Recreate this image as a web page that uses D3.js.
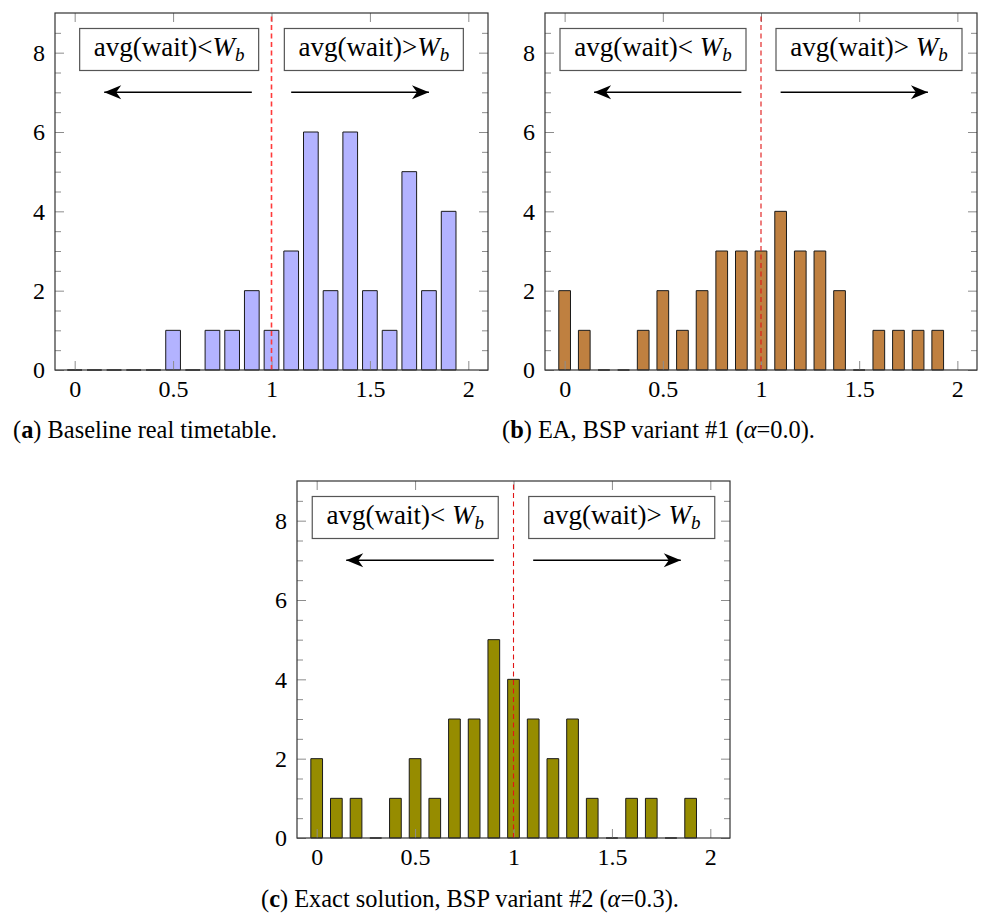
<!DOCTYPE html>
<html>
  <body>
    <style>
      body {
        margin: 0;
        background: #fff;
      }
      svg {
        display: block;
        font-family: 'Liberation Serif', 'DejaVu Serif', serif;
      }
      .tick text {
        font-size: 24px;
        fill: #000;
      }
      .tick line {
        stroke: #8c8c8c;
      }
    </style>
    <div class="chart"></div>
    <script src="https://d3js.org/d3.v7.min.js"></script>
    <script type="text/javascript">
      const width = 981;
      const height = 914;

      // histogram bins (bin centres) and the count in each bin
      const bins = [0, 0.1, 0.2, 0.3, 0.4, 0.5, 0.6, 0.7, 0.8, 0.9, 1.0, 1.1, 1.2, 1.3, 1.4, 1.5, 1.6, 1.7, 1.8, 1.9];
      const baselineCounts = [0, 0, 0, 0, 0, 1, 0, 1, 1, 2, 1, 3, 6, 2, 6, 2, 1, 5, 2, 4];
      const eaCounts = [2, 1, 0, 0, 1, 2, 1, 2, 3, 3, 3, 4, 3, 3, 2, 0, 1, 1, 1, 1];
      const exactCounts = [2, 1, 1, 0, 1, 2, 1, 3, 3, 5, 4, 3, 2, 3, 1, 0, 1, 1, 0, 1];

      const xTicks = [0, 0.5, 1, 1.5, 2];
      const xTickLabels = ['0', '0.5', '1', '1.5', '2'];
      const yTicks = [0, 2, 4, 6, 8];
      const yMinorTicks = [0.5, 1, 1.5, 2.5, 3, 3.5, 4.5, 5, 5.5, 6.5, 7, 7.5, 8.5];
      const xDomain = [-0.1, 2.1];
      const yDomain = [0, 9];
      const threshold = 1; // W_b

      const panels = [
        {
          counts: baselineCounts,
          left: 55, right: 488, top: 13, bottom: 370,
          fill: '#b3b3ff',
          barWidth: 14.7,
          dash: { color: '#ff3a3a', width: 1.6 },
          space: '',
          boxes: [0.48, 1.52],
          boxWidth: 179,
          arrows: [[0.9, 0.15], [1.1, 1.8]],
          caption: ['a', ' Baseline real timetable.'],
          captionX: 13, captionY: 438,
        },
        {
          counts: eaCounts,
          left: 545, right: 977, top: 13, bottom: 370,
          fill: '#bf8040',
          barWidth: 11.7,
          dash: { color: '#e01414', width: 1.1 },
          space: ' ',
          boxes: [0.45, 1.55],
          boxWidth: 186,
          arrows: [[0.9, 0.15], [1.1, 1.85]],
          caption: ['b', ' EA, BSP variant #1 (', 'α', '=0.0).'],
          captionX: 502, captionY: 438,
        },
        {
          counts: exactCounts,
          left: 297, right: 730, top: 481, bottom: 838,
          fill: '#968c00',
          barWidth: 11.7,
          dash: { color: '#e01414', width: 1.1 },
          space: ' ',
          boxes: [0.45, 1.55],
          boxWidth: 186,
          arrows: [[0.9, 0.15], [1.1, 1.85]],
          caption: ['c', ' Exact solution, BSP variant #2 (', 'α', '=0.3).'],
          captionX: 261, captionY: 907,
        },
      ];

      const svg = d3
        .select('.chart')
        .append('svg')
        .attr('width', width)
        .attr('height', height);

      svg
        .append('defs')
        .append('marker')
        .attr('id', 'head')
        .attr('viewBox', '-19 -9 20 18')
        .attr('refX', 0)
        .attr('refY', 0)
        .attr('markerWidth', 20)
        .attr('markerHeight', 18)
        .attr('markerUnits', 'userSpaceOnUse')
        .attr('orient', 'auto')
        .append('path')
        .attr('d', 'M0,0 L-17,-7 L-12,0 L-17,7 Z')
        .attr('fill', '#000');

      panels.forEach((p) => drawPanel(p));

      function styleAxis(sel) {
        sel.attr('font-family', null).attr('font-size', null);
        sel.select('.domain').remove();
      }

      function drawPanel(p) {
        const x = d3.scaleLinear().domain(xDomain).range([p.left, p.right]);
        const y = d3.scaleLinear().domain(yDomain).range([p.bottom, p.top]);
        const g = svg.append('g');
        const blank = () => '';

        const data = bins.map((b, i) => ({ bin: b, count: p.counts[i] }));

        // bars (paths so empty bins still show a flat outline)
        g.append('g')
          .selectAll('path')
          .data(data)
          .join('path')
          .attr('d', (d) => {
            const x0 = x(d.bin) - p.barWidth / 2;
            const x1 = x(d.bin) + p.barWidth / 2;
            return `M${x0},${y(0)}V${y(d.count)}H${x1}V${y(0)}Z`;
          })
          .attr('fill', p.fill)
          .attr('stroke', '#1a1a1a')
          .attr('stroke-width', 1);

        // ticks, all pointing inwards
        g.append('g')
          .attr('transform', `translate(0,${p.bottom})`)
          .call(
            d3.axisBottom(x).tickValues(xTicks).tickSize(-9).tickPadding(10)
              .tickFormat((d) => xTickLabels[xTicks.indexOf(d)])
          )
          .call(styleAxis);
        g.append('g')
          .attr('transform', `translate(0,${p.top})`)
          .call(d3.axisTop(x).tickValues(xTicks).tickSize(-9).tickFormat(blank))
          .call(styleAxis);
        g.append('g')
          .attr('transform', `translate(${p.left},0)`)
          .call(d3.axisLeft(y).tickValues(yTicks).tickSize(-9).tickPadding(10))
          .call(styleAxis);
        g.append('g')
          .attr('transform', `translate(${p.left},0)`)
          .call(d3.axisLeft(y).tickValues(yMinorTicks).tickSize(-6).tickFormat(blank))
          .call(styleAxis);
        g.append('g')
          .attr('transform', `translate(${p.right},0)`)
          .call(d3.axisRight(y).tickValues(yTicks).tickSize(-9).tickFormat(blank))
          .call(styleAxis);
        g.append('g')
          .attr('transform', `translate(${p.right},0)`)
          .call(d3.axisRight(y).tickValues(yMinorTicks).tickSize(-6).tickFormat(blank))
          .call(styleAxis);

        // threshold line
        g.append('line')
          .attr('x1', x(threshold))
          .attr('x2', x(threshold))
          .attr('y1', y(yDomain[0]))
          .attr('y2', y(yDomain[1]))
          .attr('stroke', p.dash.color)
          .attr('stroke-width', p.dash.width)
          .attr('stroke-dasharray', '5,3.5');

        // frame
        g.append('rect')
          .attr('x', p.left)
          .attr('y', p.top)
          .attr('width', p.right - p.left)
          .attr('height', p.bottom - p.top)
          .attr('fill', 'none')
          .attr('stroke', '#333')
          .attr('stroke-width', 1.2);

        // labelled boxes
        ['<', '>'].forEach((rel, i) => {
          const cx = x(p.boxes[i]);
          const cy = y(8.08);
          g.append('rect')
            .attr('x', cx - p.boxWidth / 2)
            .attr('y', cy - 21)
            .attr('width', p.boxWidth)
            .attr('height', 42)
            .attr('fill', '#fff')
            .attr('stroke', '#555')
            .attr('stroke-width', 1.2);
          const t = g.append('text')
            .attr('x', cx)
            .attr('y', cy + 7)
            .attr('text-anchor', 'middle')
            .attr('font-size', 27);
          t.append('tspan').text('avg(wait)' + rel + p.space);
          t.append('tspan').attr('font-style', 'italic').text('W');
          t.append('tspan').attr('font-style', 'italic').attr('font-size', 19).attr('dy', 5).text('b');
        });

        // arrows
        p.arrows.forEach((a) => {
          g.append('line')
            .attr('x1', x(a[0]))
            .attr('x2', x(a[1]))
            .attr('y1', y(7))
            .attr('y2', y(7))
            .attr('stroke', '#000')
            .attr('stroke-width', 1.5)
            .attr('marker-end', 'url(#head)');
        });

        // caption
        const c = svg.append('text')
          .attr('x', p.captionX)
          .attr('y', p.captionY)
          .attr('font-size', 24.4);
        c.append('tspan').text('(');
        c.append('tspan').attr('font-weight', 'bold').text(p.caption[0]);
        c.append('tspan').text(')' + p.caption[1]);
        if (p.caption.length > 2) {
          c.append('tspan').attr('font-style', 'italic').text(p.caption[2]);
          c.append('tspan').text(p.caption[3]);
        }
      }
    </script>
  </body>
</html>
